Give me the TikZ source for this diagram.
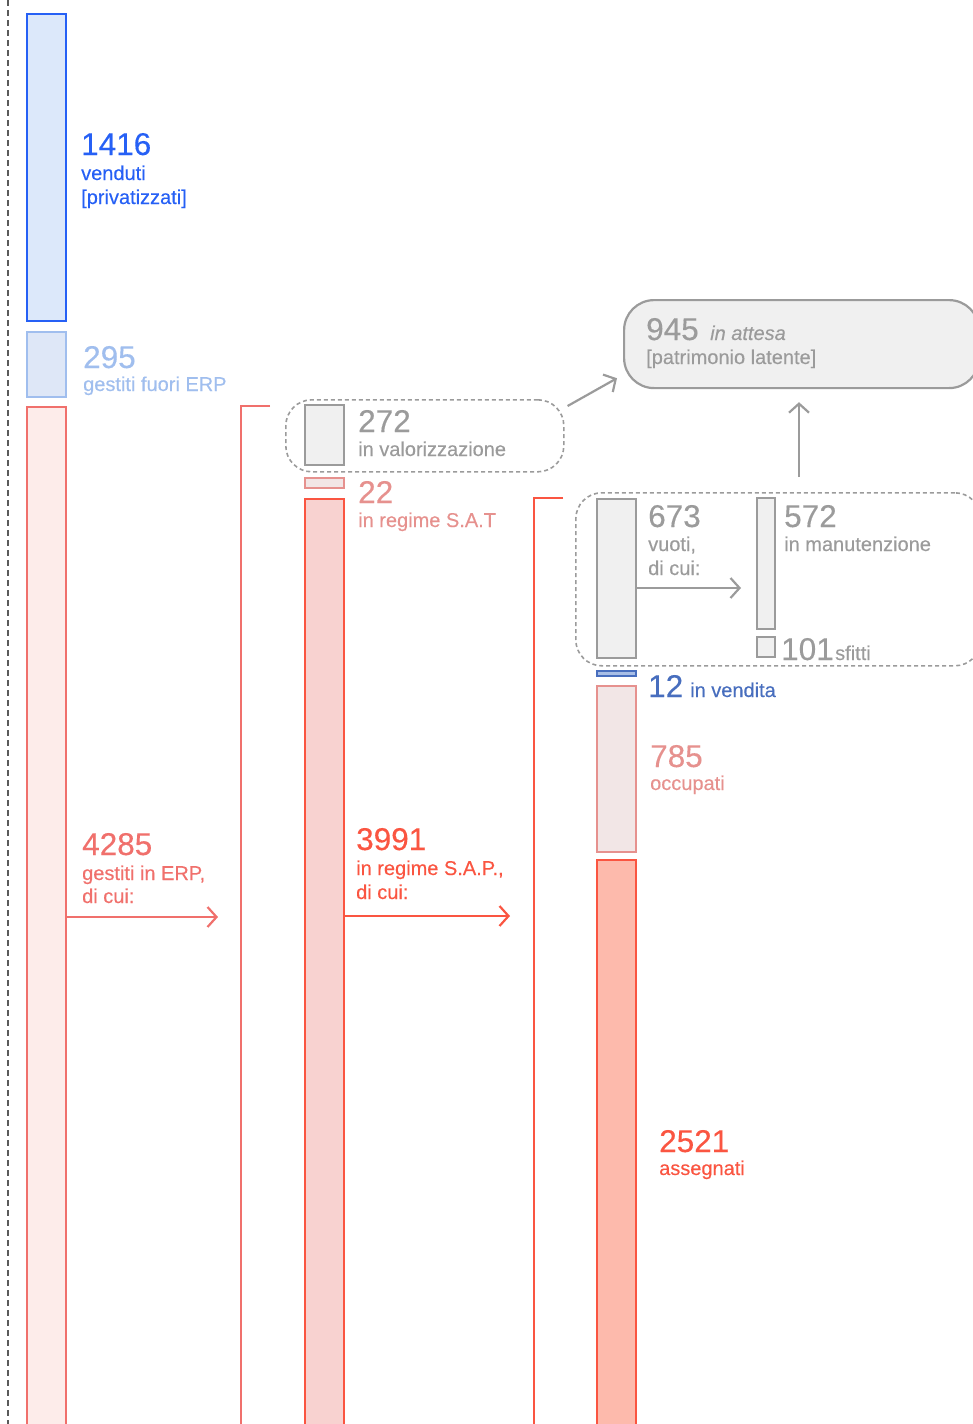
\documentclass[tikz,border=0pt]{standalone}
\usepackage{fontspec}
\setmainfont{Liberation Sans}[FakeBold=0.3]
\usepackage{tikz}
\usetikzlibrary{positioning,arrows.meta,calc}
\definecolor{bluedark}{RGB}{38, 96, 245}
\definecolor{bluefill}{RGB}{220, 232, 250}
\definecolor{bluelight}{RGB}{160, 190, 238}
\definecolor{bluelightfill}{RGB}{222, 231, 247}
\definecolor{bluemid}{RGB}{72, 110, 190}
\definecolor{bluemidfill}{RGB}{168, 190, 230}
\definecolor{redsoft}{RGB}{240, 112, 108}
\definecolor{redsoftfill}{RGB}{253, 236, 234}
\definecolor{redstrong}{RGB}{250, 85, 65}
\definecolor{sapfill}{RGB}{248, 210, 208}
\definecolor{assfill}{RGB}{253, 186, 172}
\definecolor{pinkcol}{RGB}{230, 145, 142}
\definecolor{pinkfill}{RGB}{242, 230, 230}
\definecolor{graycol}{RGB}{155, 155, 155}
\definecolor{grayfill}{RGB}{240, 240, 240}
\definecolor{graydark}{RGB}{90, 90, 90}
\tikzset{
    bar/.style={rectangle, draw, line width=2.3pt, inner sep=0pt, outer sep=0pt, anchor=north west, minimum width=39pt},
    venduti bar/.style={bar, fill=bluefill, draw=bluedark},
    fuori bar/.style={bar, fill=bluelightfill, draw=bluelight},
    erp bar/.style={bar, fill=redsoftfill, draw=redsoft},
    sap bar/.style={bar, fill=sapfill, draw=redstrong},
    assegnati bar/.style={bar, fill=assfill, draw=redstrong},
    pink bar/.style={bar, fill=pinkfill, draw=pinkcol},
    gray bar/.style={bar, fill=grayfill, draw=graycol},
    vendita bar/.style={bar, fill=bluemidfill, draw=bluemid},
    num/.style={anchor=base west, inner sep=0pt, font=\fontsize{31.5}{31.5}\selectfont},
    lbl/.style={anchor=base west, inner sep=0pt, font=\fontsize{20}{20}\selectfont},
    group box/.style={rectangle, draw=graycol, line width=1.6pt, dash pattern=on 4pt off 3pt, rounded corners=26pt, anchor=north west, inner sep=0pt},
    flow arrow/.style={-{Straight Barb[length=9pt,width=20pt]}, line width=2.2pt}
}
\begin{document}
\begin{tikzpicture}[x=1pt, y=-1pt]
\useasboundingbox (0,0) rectangle (973,1424);
\clip (0,0) rectangle (973,1424);
% left guide
\draw[graydark, line width=1.2pt, dash pattern=on 6pt off 4pt] (8,0) -- (8,1424);
% first column
\node[venduti bar, minimum height=307pt] (venduti) at (27,14) {};
\node[fuori bar, minimum height=65pt] (fuori) at (27,332) {};
\node[erp bar, minimum height=1040pt] (erp) at (27,407) {};
\node[num, text=bluedark] (n1416) at (81,155) {1416};
\node[lbl, text=bluedark] at (81,180) {venduti};
\node[lbl, text=bluedark] at (81,204) {[privatizzati]};
\node[num, text=bluelight] (n295) at (83,368) {295};
\node[lbl, text=bluelight] at (83,391) {gestiti fuori ERP};
\node[num, text=redsoft] (n4285) at (82,855) {4285};
\node[lbl, text=redsoft] at (82,880) {gestiti in ERP,};
\node[lbl, text=redsoft] at (82,903) {di cui:};
\coordinate (erpend) at (218,917);
\draw[flow arrow, redsoft] (erp.east |- erpend) -- (erpend);
% second column
\draw[redsoft, line width=2.3pt] (270,406) -| (241,1440);
\node[group box, minimum width=278pt, minimum height=72pt] (valgroup) at (285,399) {};
\node[gray bar, minimum height=60pt] (valor) at (305,405) {};
\node[num, text=graycol] at (358,432) {272};
\node[lbl, text=graycol] at (358,456) {in valorizzazione};
\node[pink bar, minimum height=10pt] (sat) at (305,478) {};
\node[num, text=pinkcol] at (358,503) {22};
\node[lbl, text=pinkcol] at (358,527) {in regime S.A.T};
\node[sap bar, minimum height=950pt] (sap) at (305,499) {};
\node[num, text=redstrong] (n3991) at (356,850) {3991};
\node[lbl, text=redstrong] at (356,875) {in regime S.A.P.,};
\node[lbl, text=redstrong] at (356,899) {di cui:};
\coordinate (sapend) at (510,916);
\draw[flow arrow, redstrong] (sap.east |- sapend) -- (sapend);
% third column
\draw[redstrong, line width=2.3pt] (563,498) -| (534,1440);
\node[rectangle, draw=graycol, fill=grayfill, line width=2.2pt, rounded corners=30pt, anchor=north west, minimum width=355pt, minimum height=88pt] (attesa) at (623,299) {};
\node[num, text=graycol] (n945) at (646,340) {945};
\node[lbl, text=graycol, font=\fontsize{20}{20}\selectfont\itshape] at (710,340) {in attesa};
\node[lbl, text=graycol] at (646,364) {[patrimonio latente]};
\node[group box, minimum width=405pt, minimum height=173pt] (vuotigroup) at (575,492) {};
\node[gray bar, minimum height=159pt] (vuoti) at (597,499) {};
\node[num, text=graycol] at (648,527) {673};
\node[lbl, text=graycol] at (648,551) {vuoti,};
\node[lbl, text=graycol] at (648,575) {di cui:};
\node[gray bar, minimum width=18pt, minimum height=131pt] (manut) at (757,498) {};
\node[gray bar, minimum width=18pt, minimum height=20pt] (sfitti) at (757,637) {};
\node[num, text=graycol] at (784,527) {572};
\node[lbl, text=graycol] at (784,551) {in manutenzione};
\node[num, text=graycol] at (781,660) {101};
\node[lbl, text=graycol] at (835,660) {sfitti};
\coordinate (vuotiend) at (741,588);
\draw[flow arrow, graycol] (vuoti.east |- vuotiend) -- (vuotiend);
\coordinate (upstart) at (799,477);
\draw[flow arrow, graycol] (upstart) -- ([yshift=-13pt]attesa.south -| upstart);
\draw[flow arrow, graycol] ([shift={(3,7)}]valgroup.north east) -- ([shift={(-6,-11)}]attesa.south west);
\node[vendita bar, minimum height=5pt] (vendita) at (597,671) {};
\node[num, text=bluemid] at (648,697) {12};
\node[lbl, text=bluemid] at (690,697) {in vendita};
\node[pink bar, minimum height=166pt] (occupati) at (597,686) {};
\node[num, text=pinkcol] at (650,767) {785};
\node[lbl, text=pinkcol] at (650,790) {occupati};
\node[assegnati bar, minimum height=600pt] (assegnati) at (597,860) {};
\node[num, text=redstrong] at (659,1152) {2521};
\node[lbl, text=redstrong] at (659,1175) {assegnati};
\end{tikzpicture}
\end{document}
